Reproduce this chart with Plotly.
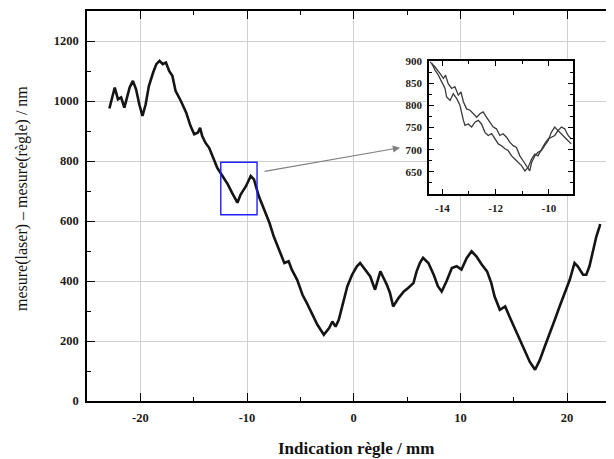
import plotly.graph_objects as go

# ---- data ----
main_x = [-22.9, -22.7, -22.4, -22.1, -21.8, -21.5, -21.3, -21.0, -20.7, -20.4, -20.1, -19.8,
          -19.5, -19.2, -18.8, -18.5, -18.2, -17.9, -17.6, -17.3, -17.0, -16.7, -16.2, -15.7,
          -15.3, -14.95, -14.6, -14.4, -14.2, -13.9, -13.55, -13.2, -12.8, -12.3, -11.8, -11.4,
          -10.9, -10.6, -10.1, -9.65, -9.35, -8.9, -8.4, -7.9, -7.5, -7.0, -6.5, -6.1, -5.8,
          -5.3, -4.8, -4.4, -3.9, -3.4, -2.8, -2.3, -2.0, -1.7, -1.4, -1.1, -0.6, -0.15, 0.3,
          0.6, 1.1, 1.55, 2.0, 2.5, 2.8, 3.1, 3.4, 3.7, 4.2, 4.7, 5.1, 5.6, 5.9, 6.2, 6.5, 7.0,
          7.5, 7.9, 8.25, 8.7, 9.2, 9.65, 10.1, 10.6, 11.05, 11.5, 12.0, 12.5, 12.9, 13.2, 13.7,
          14.2, 14.6, 15.1, 15.6, 16.05, 16.5, 17.0, 17.45, 17.9, 18.4, 18.85, 19.3, 19.8, 20.25,
          20.7, 21.0, 21.5, 21.8, 22.1, 22.4, 22.75, 23.05, 23.1]
main_y = [975, 1000, 1045, 1006, 1012, 978, 1006, 1045, 1067, 1039, 989, 950,
          989, 1050, 1095, 1123, 1134, 1123, 1128, 1100, 1084, 1034, 1000, 961,
          917, 889, 895, 911, 883, 861, 844, 816, 778, 750, 722, 694,
          661, 688, 716, 750, 739, 683, 638, 594, 549, 505, 460, 466, 438,
          404, 354, 327, 293, 254, 221, 243, 265, 248, 271, 315, 382, 421, 449,
          460, 438, 415, 371, 432, 410, 388, 360, 315, 343, 365, 377, 393, 432, 460, 477, 460,
          421, 382, 365, 399, 443, 449, 438, 477, 499, 482, 455, 432, 393, 349, 304,
          315, 282, 243, 204, 165, 131, 104, 137, 181, 226, 271, 315, 360, 404,
          460, 449, 421, 421, 449, 494, 549, 582, 590]

inset_a_x = [-14.46, -14.28, -14.09, -13.96, -13.88, -13.78, -13.65, -13.53, -13.40, -13.30,
             -13.21, -13.09, -12.96, -12.84, -12.71, -12.59, -12.47, -12.34, -12.22, -12.09,
             -11.97, -11.84, -11.72, -11.59, -11.47, -11.34, -11.22, -11.09, -10.97, -10.84,
             -10.72, -10.65, -10.53, -10.41, -10.28, -10.16, -10.03, -9.91, -9.78, -9.66,
             -9.53, -9.41, -9.28, -9.16]
inset_a_y = [898, 887, 872, 861, 868, 849, 838, 842, 823, 830,
             808, 792, 789, 781, 773, 781, 785, 773, 762, 751,
             747, 732, 736, 728, 717, 709, 705, 686, 675, 664,
             652, 671, 686, 694, 698, 709, 720, 739, 751, 743,
             751, 747, 732, 724]

inset_b_x = [-14.40, -14.28, -14.15, -14.03, -13.90, -13.84, -13.71, -13.59, -13.46, -13.34,
             -13.28, -13.21, -13.15, -13.03, -12.90, -12.78, -12.65, -12.53, -12.40, -12.28,
             -12.15, -12.03, -11.90, -11.78, -11.65, -11.53, -11.40, -11.28, -11.15, -11.03,
             -10.90, -10.78, -10.65, -10.53, -10.41, -10.28, -10.16, -10.03, -9.91, -9.78,
             -9.66, -9.53, -9.41, -9.28, -9.16]
inset_b_y = [895, 880, 868, 853, 838, 819, 811, 826, 815, 800,
             781, 766, 755, 758, 751, 762, 766, 758, 739, 732,
             736, 724, 713, 709, 702, 698, 686, 679, 671, 664,
             652, 660, 679, 690, 686, 701, 713, 724, 728, 732,
             743, 736, 728, 720, 713]

x_ticks = [-20, -10, 0, 10, 20]
x_tick_text = ["-20", "-10", "0", "10", "20"]
y_ticks = [0, 200, 400, 600, 800, 1000, 1200]
y_tick_text = ["0", "200", "400", "600", "800", "1000", "1200"]
inset_x_ticks = [-14, -12, -10]
inset_x_tick_text = ["-14", "-12", "-10"]
inset_y_ticks = [650, 700, 750, 800, 850, 900]
inset_y_tick_text = ["650", "700", "750", "800", "850", "900"]
zoom_box_x = [-12.46, -9.06]
zoom_box_y = [621, 796]

x_title = "Indication règle / mm"
y_title = "mesure(laser) – mesure(règle) / nm"

SERIF = "Liberation Serif"
LBL = "#1e1a16"

fig = go.Figure()
fig.add_trace(go.Scatter(x=main_x, y=main_y, mode="lines",
                         line=dict(color="#141414", width=2.6), xaxis="x", yaxis="y",
                         showlegend=False, hoverinfo="skip"))
fig.add_trace(go.Scatter(x=inset_a_x, y=inset_a_y, mode="lines",
                         line=dict(color="#3a3a3a", width=1.3), xaxis="x2", yaxis="y2",
                         showlegend=False, hoverinfo="skip"))
fig.add_trace(go.Scatter(x=inset_b_x, y=inset_b_y, mode="lines",
                         line=dict(color="#3a3a3a", width=1.3), xaxis="x2", yaxis="y2",
                         showlegend=False, hoverinfo="skip"))

axis_common = dict(showline=True, linecolor="black", linewidth=1.5, ticks="inside",
                   tickcolor="black", tickwidth=1.3, zeroline=False, automargin=False)

main_font = dict(size=12.5, family=SERIF, color=LBL, weight="bold")
inset_font = dict(size=11, family=SERIF, color=LBL, weight="bold")

# the page adds an 8 px body margin, so the figure is 8 px smaller than the window
fig.update_layout(
    width=606, height=451,
    margin=dict(l=79, r=0, t=3, b=58),
    paper_bgcolor="white", plot_bgcolor="white",
    font=dict(family=SERIF, color=LBL),
    xaxis=dict(**axis_common, range=[-25, 24.4], tickvals=x_ticks, ticktext=x_tick_text,
               ticklen=8, mirror="ticks", showgrid=True, gridcolor="#d0d0d0", gridwidth=1.3,
               tickfont=main_font, ticklabelstandoff=4,
               minor=dict(ticks="inside", ticklen=4, dtick=5, tick0=0, tickcolor="black",
                          tickwidth=1.2, showgrid=False)),
    yaxis=dict(**axis_common, range=[0, 1300], tickvals=y_ticks, ticktext=y_tick_text,
               ticklen=8, mirror=False, showgrid=True, gridcolor="#d0d0d0", gridwidth=1.3,
               tickfont=main_font, ticklabelstandoff=4,
               minor=dict(ticks="inside", ticklen=4, dtick=100, tick0=0, tickcolor="black",
                          tickwidth=1.2, showgrid=False)),
    xaxis2=dict(**axis_common, domain=[0.649, 0.922], anchor="y2", range=[-14.5, -9.1],
                tickvals=inset_x_ticks, ticktext=inset_x_tick_text, ticklen=5,
                mirror="allticks", showgrid=False, tickfont=inset_font, ticklabelstandoff=3,
                minor=dict(ticks="inside", ticklen=3, dtick=1, tick0=0, tickcolor="black",
                           showgrid=False)),
    yaxis2=dict(**axis_common, domain=[0.5308, 0.8718], anchor="x2", range=[600, 900],
                tickvals=inset_y_ticks, ticktext=inset_y_tick_text, ticklen=5,
                mirror="allticks", showgrid=False, tickfont=inset_font, ticklabelstandoff=3,
                minor=dict(ticks="inside", ticklen=3, dtick=25, tick0=0, tickcolor="black",
                           showgrid=False)),
    shapes=[dict(type="rect", xref="x", yref="y", x0=zoom_box_x[0], x1=zoom_box_x[1],
                 y0=zoom_box_y[0], y1=zoom_box_y[1], line=dict(color="#1f1fff", width=1.4),
                 fillcolor="rgba(0,0,0,0)", layer="above")],
    annotations=[
        dict(text="", x=0.594, y=0.6495, xref="paper", yref="paper", showarrow=True,
             ax=-137, ay=24, axref="pixel", ayref="pixel", arrowcolor="#808080",
             arrowwidth=1.2, arrowhead=2, arrowsize=1.2),
        dict(text=y_title, x=-0.1233, y=0.518, xref="paper", yref="paper", showarrow=False,
             textangle=-90, xanchor="center", yanchor="middle",
             font=dict(size=16, family=SERIF, color="#111")),
        dict(text="<b>" + x_title + "</b>", x=0.5104, y=-0.123, xref="paper", yref="paper",
             showarrow=False, xanchor="center", yanchor="middle",
             font=dict(size=17, family=SERIF, color="#111")),
    ],
)

fig.write_html("out.html")
